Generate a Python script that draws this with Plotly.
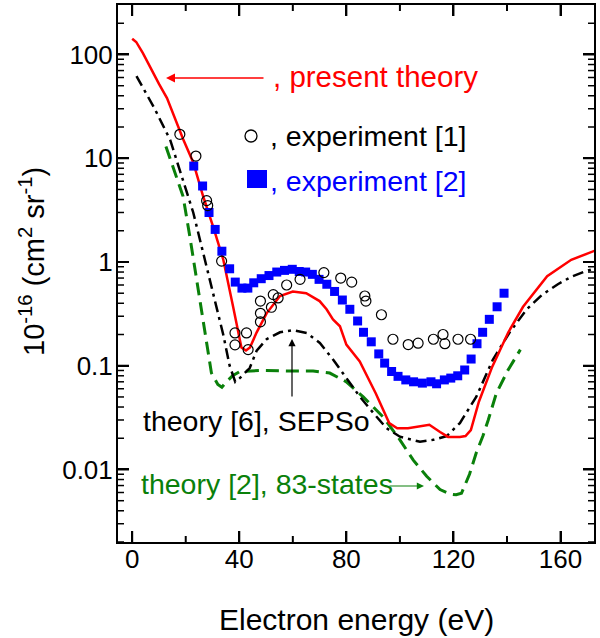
import math
import plotly.graph_objects as go

# ---------------- data ----------------
present_E = [0, 1.5, 4, 7, 10, 13, 16, 19, 22.8, 26.5, 30.2, 34, 37.7, 40.8, 42.5, 44, 46.5, 50.2,
             55.2, 60, 65, 70, 72.6, 75, 77.6, 80, 85, 91, 96, 99, 103, 107.5, 111, 115, 118,
             122.4, 124.5, 126.5, 129.5, 134.5, 140.5, 146, 155, 164, 174]
present_v = [142, 132, 103, 72, 52, 38, 24, 15.3, 9.1, 4.3, 2.2, 1.06, 0.37, 0.15, 0.14, 0.15, 0.21, 0.32,
             0.47, 0.52, 0.50, 0.42, 0.35, 0.28, 0.24, 0.16, 0.11, 0.054, 0.028, 0.025, 0.025, 0.026, 0.027, 0.023, 0.0206,
             0.0206, 0.021, 0.024, 0.045, 0.098, 0.21, 0.37, 0.73, 1.05, 1.32]

sepso_E = [1.6, 5.9, 8.4, 14.2, 18.4, 22.8, 26.5, 30.2, 34, 36.4, 38.5, 40.2, 43.9, 46.5, 50.2, 55.2,
           60.1, 65.2, 70.1, 75.1, 80.1, 85.1, 90.1, 95, 100, 107.5, 112.5, 117.5, 122.4, 128.5,
           134.7, 141, 147.4, 153, 159, 164, 169, 174]
sepso_v = [62, 40, 30, 15, 6.8, 3.0, 1.23, 0.5, 0.2, 0.1, 0.07, 0.076, 0.095, 0.14, 0.18, 0.21,
           0.22, 0.207, 0.166, 0.114, 0.076, 0.05, 0.035, 0.025, 0.0207, 0.0185, 0.0193, 0.021, 0.028, 0.05,
           0.114, 0.21, 0.35, 0.48, 0.61, 0.72, 0.81, 0.88]

states83_E = [12.6, 15, 17, 19, 21.5, 24, 26.5, 29.6, 32, 33.5, 35.2, 37.5, 40.2, 44, 47.7, 57.7,
              67.6, 73.8, 80, 86.3, 93.8, 100, 105, 110, 115, 118.7, 121, 123, 126, 128.5, 131,
              133, 136, 140.4, 145]
states83_v = [13, 8.7, 6.2, 4.3, 1.78, 0.68, 0.28, 0.085, 0.066, 0.062, 0.07, 0.08, 0.088, 0.089, 0.09, 0.089,
              0.089, 0.085, 0.07, 0.05, 0.032, 0.0193, 0.0123, 0.0086, 0.0064, 0.0058, 0.0057, 0.0059, 0.009, 0.0144, 0.021,
              0.030, 0.054, 0.091, 0.143]

exp1_E = [17.8, 23.8, 27.8, 28.2, 33.4, 38.4, 38.4, 42.7, 43.3, 47.9, 47.9, 47.9, 52.0, 52.7, 54.5,
          57.7, 62.7, 71.6, 77.9, 82.0, 86.9, 87.3, 93.1, 97.4, 103.1, 106.8, 112.5, 116.1, 116.8,
          121.7, 126.4]
exp1_v = [17, 10.5, 3.9, 3.5, 1.02, 0.207, 0.159, 0.207, 0.143, 0.42, 0.32, 0.265, 0.366, 0.485, 0.45,
          0.60, 0.68, 0.79, 0.70, 0.64, 0.47, 0.42, 0.31, 0.18, 0.16, 0.165, 0.18, 0.20, 0.163,
          0.18, 0.18]

exp2_E = [23, 26.3, 28.7, 31, 33.5, 36.4, 38.5, 41, 43.2, 45.4, 48.2, 51.1, 54.0, 56.9, 59.8, 62.4,
          64.8, 67.3, 69.8, 72.7, 75.6, 78.5, 81.3, 84.2, 86.4, 89.3, 92.1, 94.3, 96.9, 99.3, 102.2,
          105.1, 108.4, 111.6, 113.7, 116.6, 119.0, 121.6, 124.2, 126.6, 128.8, 130.9, 133.4, 136.3, 138.9]
exp2_v = [8.4, 5.4, 3.0, 2.06, 1.27, 0.86, 0.64, 0.56, 0.56, 0.63, 0.69, 0.74, 0.80, 0.83, 0.85, 0.81,
          0.80, 0.76, 0.68, 0.61, 0.52, 0.43, 0.35, 0.27, 0.21, 0.17, 0.13, 0.106, 0.088, 0.079, 0.073,
          0.070, 0.068, 0.070, 0.067, 0.073, 0.076, 0.080, 0.091, 0.116, 0.163, 0.21, 0.28, 0.37, 0.50]

x_ticks = [0, 40, 80, 120, 160]
x_minor_ticks = [20, 60, 100, 140]
y_ticks = [0.01, 0.1, 1, 10, 100]
y_ticktext = ["0.01", "0.1", "1", "10", "100"]
y_minor_ticks = [m * 10 ** e for e in range(-3, 3) for m in range(2, 10)]

# ---------------- figure ----------------
W, H = 600, 638
ML, MR, MT, MB = 118, 6, 5, 96
PW, PH = W - ML - MR, H - MT - MB
FONT = "Liberation Sans, Arial, sans-serif"
XR = [-5.3, 172.5]
YR = [-2.699, 2.477]


def px(x):
    return (x - ML) / PW


def py(y):
    return 1 - (y - MT) / PH


fig = go.Figure()
fig.add_trace(go.Scatter(x=states83_E, y=states83_v, mode="lines",
                         line=dict(color="#0a800a", width=3, dash="13px,7px")))
fig.add_trace(go.Scatter(x=sepso_E, y=sepso_v, mode="lines",
                         line=dict(color="black", width=2.5, dash="11px,5px,3px,5px")))
fig.add_trace(go.Scatter(x=present_E, y=present_v, mode="lines",
                         line=dict(color="#ff0000", width=2.5)))
fig.add_trace(go.Scatter(x=exp2_E, y=exp2_v, mode="markers",
                         marker=dict(symbol="square", size=9, color="#0000ff", line=dict(width=0))))
fig.add_trace(go.Scatter(x=exp1_E, y=exp1_v, mode="markers",
                         marker=dict(symbol="circle-open", size=10, color="black", line=dict(width=1.2))))

ann = []
tf = dict(family=FONT, size=28.5)
ann.append(dict(xref="paper", yref="paper", x=px(271), y=py(76), xanchor="left", yanchor="middle",
                text=", present theory", showarrow=False, font=dict(family=FONT, size=29.5, color="#ff0000")))
ann.append(dict(xref="paper", yref="paper", x=px(166), y=py(78), ax=99, ay=0, text="",
                showarrow=True, arrowhead=2, arrowsize=1.2, arrowwidth=1.5, arrowcolor="#ff0000"))
ann.append(dict(xref="paper", yref="paper", x=px(268), y=py(136), xanchor="left", yanchor="middle",
                text=", experiment [1]", showarrow=False, font=dict(tf, color="black")))
ann.append(dict(xref="paper", yref="paper", x=px(268), y=py(181), xanchor="left", yanchor="middle",
                text=", experiment [2]", showarrow=False, font=dict(tf, color="#0000ff")))
ann.append(dict(xref="paper", yref="paper", x=px(141), y=py(421), xanchor="left", yanchor="middle",
                text="theory [6], SEPSo", showarrow=False, font=dict(tf, color="black")))
ann.append(dict(xref="paper", yref="paper", x=px(292), y=py(339), ax=0, ay=59, text="",
                showarrow=True, arrowhead=2, arrowsize=1.2, arrowwidth=1.2, arrowcolor="black"))
ann.append(dict(xref="paper", yref="paper", x=px(139), y=py(484), xanchor="left", yanchor="middle",
                text="theory [2], 83-states", showarrow=False, font=dict(tf, color="#0a800a")))
ann.append(dict(xref="paper", yref="paper", x=px(424), y=py(486), ax=-36, ay=0, text="",
                showarrow=True, arrowhead=2, arrowsize=1.2, arrowwidth=1.2, arrowcolor="#0a800a"))
# axis titles
ann.append(dict(xref="paper", yref="paper", x=px(356), y=py(619), xanchor="center", yanchor="middle",
                text="Electron energy (eV)", showarrow=False, font=dict(family=FONT, size=30, color="black")))
ann.append(dict(xref="paper", yref="paper", x=px(32), y=py(262), xanchor="center", yanchor="middle",
                textangle=-90, text="10<sup>-16</sup> (cm<sup>2</sup> sr<sup>-1</sup>)", showarrow=False,
                font=dict(family=FONT, size=29, color="black")))

shapes = [
    dict(type="circle", xref="paper", yref="paper", x0=px(245), x1=px(257), y0=py(142), y1=py(130),
         line=dict(color="black", width=1.3), fillcolor="rgba(0,0,0,0)", opacity=1),
    dict(type="rect", xref="paper", yref="paper", x0=px(247), x1=px(267), y0=py(188), y1=py(170),
         line=dict(width=0), fillcolor="#0000ff", opacity=1),
]


# tick marks drawn inside the frame on all four sides (built from the tick arrays)
def xtick(val, length, width):
    out = []
    for anchor, sign in ((0, 1), (1, -1)):
        out.append(dict(type="line", xref="x", yref="paper", x0=val, x1=val,
                        ysizemode="pixel", yanchor=anchor, y0=0, y1=sign * length,
                        line=dict(color="black", width=width), layer="above"))
    return out


def ytick(val, length, width):
    out = []
    for anchor, sign in ((0, 1), (1, -1)):
        out.append(dict(type="line", yref="y", xref="paper", y0=val, y1=val,
                        xsizemode="pixel", xanchor=anchor, x0=0, x1=sign * length,
                        line=dict(color="black", width=width), layer="above"))
    return out


for v in x_ticks:
    shapes += xtick(v, 11, 2)
for v in x_minor_ticks:
    shapes += xtick(v, 6, 2)
for v in y_ticks:
    shapes += ytick(v, 11, 2)
for v in y_minor_ticks:
    if YR[0] < math.log10(v) < YR[1]:
        shapes += ytick(v, 6, 1.5)

axis_common = dict(ticks="inside", ticklen=11, tickwidth=2, tickcolor="black",
                   showline=True, linewidth=2, linecolor="black", mirror="ticks",
                   showgrid=False, zeroline=False, automargin=False,
                   tickfont=dict(family=FONT, size=26, color="black"))

fig.update_layout(
    width=W, height=H,
    margin=dict(l=ML, r=MR, t=MT, b=MB, pad=0),
    paper_bgcolor="white", plot_bgcolor="white",
    showlegend=False,
    font=dict(family=FONT, size=26, color="black"),
    annotations=ann, shapes=shapes,
    xaxis=dict(axis_common, range=XR, tickmode="array", tickvals=x_ticks, ticklabelstandoff=-7),
    yaxis=dict(axis_common, type="log", range=YR, tickmode="array", tickvals=y_ticks,
               ticktext=y_ticktext, ticklabelstandoff=-2),
)

fig.write_html("out.html", config={"displayModeBar": False},
               post_script="document.body.style.margin='0';document.body.style.overflow='hidden';")
